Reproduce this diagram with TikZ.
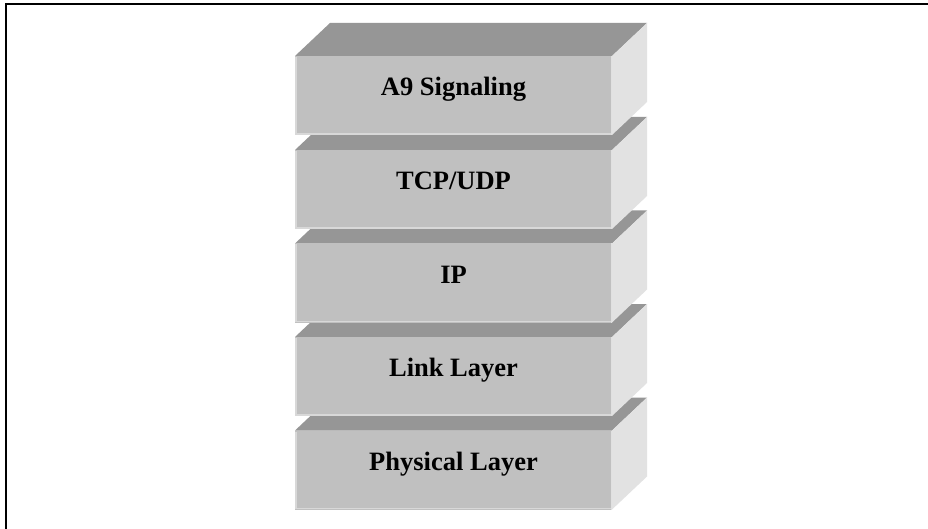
\documentclass[tikz,border=0pt]{standalone}
\usepackage{fontspec}
\setmainfont{Liberation Serif}
\definecolor{frontgray}{HTML}{C0C0C0}
\definecolor{topgray}{HTML}{969696}
\definecolor{sidegray}{HTML}{E2E2E2}
\definecolor{edgegray}{HTML}{D8D8D8}
\tikzset{
  layerfront/.style={fill=frontgray, draw=none},
  layertop/.style={fill=topgray, draw=none},
  layerside/.style={fill=sidegray, draw=none},
  layeredge/.style={draw=edgegray, line width=1.5pt},
  layerlabel/.style={font=\bfseries\fontsize{26.5}{31}\selectfont, text=black, inner sep=0pt, anchor=base},
  frameline/.style={draw=black, line width=2pt}
}
% one layer block: #1 = name, #2 = top of the front face, #3 = label
\newcommand{\layerblock}[3]{%
  \begin{scope}[shift={(0,#2)}]
    \fill[layertop] (295,0) -- (330,-33) -- (647,-33) -- (612,0) -- cycle;
    \fill[layerside] (612,0) -- (647,-33) -- (647,46) -- (612,79) -- cycle;
    \fill[layerfront] (295,0) rectangle (612,79);
    \draw[layeredge] (296,1) -- (296,78) -- (611,78);
    \draw[draw=edgegray!80!white, line width=1pt] (611.5,0) -- (611.5,79);
    \node[layerlabel] (#1) at (453.5,39.5) {#3};
  \end{scope}}
\begin{document}
\begin{tikzpicture}[x=1pt,y=-1pt]
  \useasboundingbox (0,0) rectangle (928,529);
  \fill[white] (0,0) rectangle (928,529);
  % frame, open towards the right and the bottom
  \draw[frameline] (6,529) -- (6,4.3) -- (928,4.3);
  % stack, drawn from the bottom layer upwards
  \layerblock{phy}{430.5}{Physical Layer}
  \layerblock{link}{337}{Link Layer}
  \layerblock{ip}{243.5}{IP}
  \layerblock{tcp}{150}{TCP/UDP}
  \layerblock{a9}{56}{A9 Signaling}
\end{tikzpicture}
\end{document}
